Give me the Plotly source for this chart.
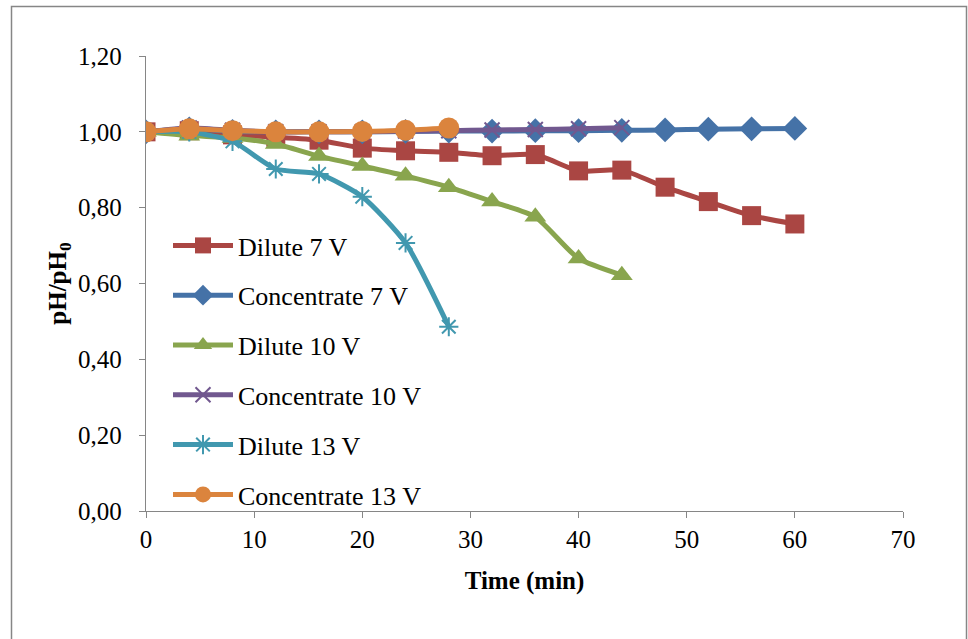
import plotly.graph_objects as go

# Sampling times (min)
t_7v = [0, 4, 8, 12, 16, 20, 24, 28, 32, 36, 40, 44, 48, 52, 56, 60]
t_10v = [0, 4, 8, 12, 16, 20, 24, 28, 32, 36, 40, 44]
t_13v = [0, 4, 8, 12, 16, 20, 24, 28]

# Normalised pH (pH/pH0)
dilute_7v = [1.000, 1.003, 0.992, 0.986, 0.978, 0.957, 0.950, 0.946, 0.937, 0.940,
             0.897, 0.899, 0.854, 0.816, 0.779, 0.757]
conc_7v = [1.000, 1.008, 1.001, 1.000, 1.000, 1.000, 1.001, 1.002, 1.002, 1.003,
           1.003, 1.004, 1.005, 1.007, 1.008, 1.009]
dilute_10v = [1.000, 0.990, 0.984, 0.968, 0.936, 0.910, 0.884, 0.854, 0.816, 0.776,
              0.666, 0.622]
conc_10v = [1.000, 1.010, 1.004, 1.000, 1.000, 1.000, 1.002, 1.003, 1.005, 1.006,
            1.008, 1.011]
dilute_13v = [1.000, 1.000, 0.975, 0.902, 0.889, 0.829, 0.707, 0.486]
conc_13v = [1.000, 1.008, 1.003, 1.000, 1.000, 1.001, 1.004, 1.010]

x_ticks = [0, 10, 20, 30, 40, 50, 60, 70]
y_ticks = [0.0, 0.2, 0.4, 0.6, 0.8, 1.0, 1.2]

FONT = "Liberation Serif"

series = [
    ("Dilute 7 V", t_7v, dilute_7v, "#AA4643", "square", 19, 0),
    ("Concentrate 7 V", t_7v, conc_7v, "#4572A7", "diamond", 19, 0),
    ("Dilute 10 V", t_10v, dilute_10v, "#89A54E", "triangle-up", 19, 0),
    ("Concentrate 10 V", t_10v, conc_10v, "#71588F", "x-thin-open", 15, 2),
    ("Dilute 13 V", t_13v, dilute_13v, "#4198AF", "asterisk-open", 16, 2),
    ("Concentrate 13 V", t_13v, conc_13v, "#DB843D", "circle", 21, 0),
]

fig = go.Figure()
for i, (name, xs, ys, color, sym, size, lw) in enumerate(series):
    fig.add_trace(go.Scatter(
        x=xs, y=ys, name=name, mode="lines+markers",
        line=dict(color=color, width=5, shape="spline", smoothing=0.6),
        marker=dict(symbol=sym, size=size, color=color,
                    line=dict(color=color, width=lw)),
        legendgroup=f"g{i}",
    ))

# Plot-area margins and helpers converting pixel positions to paper units
L, R, T, B = 146, 65, 56, 128
W, H = 968, 639
pw, ph = W - L - R, H - T - B

def px_x(p):
    return (p - L) / pw

def px_y(p):
    return (H - B - p) / ph

# Outer chart frame
fig.add_shape(type="rect", xref="paper", yref="paper",
              x0=px_x(11.5), x1=px_x(966.5), y0=px_y(650), y1=px_y(6.5),
              line=dict(color="#868686", width=1.5), fillcolor="rgba(0,0,0,0)",
              layer="below")

axis_common = dict(
    showgrid=False, zeroline=False, showline=True, linecolor="#868686",
    linewidth=1.3, ticks="outside", ticklen=6, tickcolor="#868686",
    tickfont=dict(family=FONT, size=25, color="#000"),
)

fig.update_xaxes(range=[0, 70], tickvals=x_ticks, ticklabelstandoff=0, **axis_common,
                 title=dict(text="<b>Time (min)</b>", standoff=19,
                            font=dict(family=FONT, size=25, color="#000")))
fig.update_yaxes(range=[0, 1.2], tickvals=y_ticks, tickformat=".2f",
                 ticklabelstandoff=12, **axis_common,
                 title=dict(text="<b>pH/pH<sub>0</sub></b>", standoff=4,
                            font=dict(family=FONT, size=25, color="#000")))

fig.update_layout(
    width=W, height=H,
    margin=dict(l=L, r=R, t=T, b=B),
    separators=", ",
    plot_bgcolor="white", paper_bgcolor="white",
    showlegend=True,
    legend=dict(x=px_x(168), y=px_y(222), xanchor="left", yanchor="top",
                bgcolor="rgba(0,0,0,0)", tracegroupgap=13, itemwidth=60,
                font=dict(family=FONT, size=26, color="#000")),
)

fig.write_html("out.html")
